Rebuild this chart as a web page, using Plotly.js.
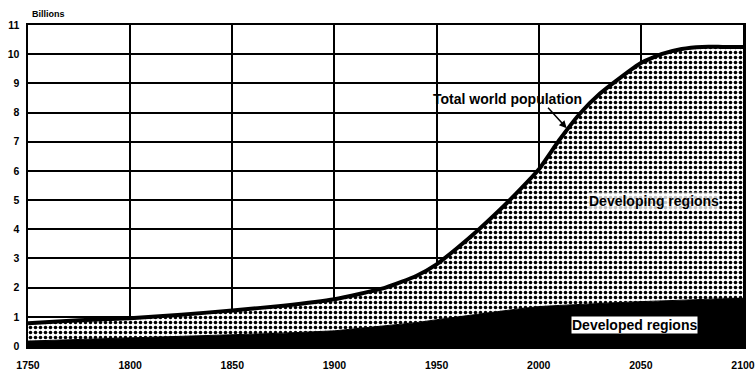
<!DOCTYPE html>
<html>
<head>
<meta charset="utf-8">
<script src="https://cdn.plot.ly/plotly-3.0.1.min.js"></script>
<style>html,body{margin:0;padding:0;background:#fff}#chart{width:755px;height:375px}</style>
</head>
<body>
<div id="chart"></div>
<script>
// Years (x values)
const years = [1750,1775,1800,1825,1850,1875,1900,1925,1940,1950,1960,1970,1980,1990,2000,2010,2020,2030,2040,2050,2060,2070,2080,2090,2100];
// Developed regions population (billions)
const developed = [0.17,0.22,0.27,0.32,0.38,0.44,0.52,0.68,0.80,0.90,1.00,1.09,1.18,1.27,1.35,1.39,1.43,1.46,1.49,1.52,1.55,1.58,1.60,1.62,1.63];
// Total world population (billions)
const total = [0.78,0.88,0.95,1.07,1.22,1.38,1.60,2.00,2.40,2.80,3.35,3.95,4.60,5.30,6.05,7.05,7.95,8.65,9.20,9.70,10.00,10.18,10.25,10.25,10.25];
const xTicks = [1750,1800,1850,1900,1950,2000,2050,2100];
const yTicks = [0,1,2,3,4,5,6,7,8,9,10,11];

const tickFont = {family:'Liberation Sans, Arial, sans-serif', size:10.5, weight:'bold', color:'#000'};
const labFont = {family:'Liberation Sans, Arial, sans-serif', size:14, weight:'bold', color:'#000'};

const traces = [
  {x:years, y:developed, type:'scatter', mode:'lines', fill:'tozeroy',
   fillcolor:'#000', line:{color:'#000', width:1}, hoverinfo:'skip', showlegend:false},
  {x:years, y:total, type:'scatter', mode:'lines', fill:'tonexty',
   fillcolor:'#fff',
   fillpattern:{shape:'.', size:5, solidity:0.4, fgcolor:'#000', bgcolor:'#fff', fillmode:'replace'},
   line:{color:'#000', width:4, shape:'spline', smoothing:0.5}, hoverinfo:'skip', showlegend:false}
];

const layout = {
  width:755, height:375,
  margin:{l:28, r:12, t:25, b:29},
  paper_bgcolor:'#fff', plot_bgcolor:'#fff',
  showlegend:false,
  xaxis:{range:[1750,2100], tickvals:xTicks, ticktext:xTicks.map(String),
    showgrid:true, gridcolor:'#000', gridwidth:2, zeroline:false,
    showline:true, linecolor:'#000', linewidth:2.5, mirror:true,
    ticks:'', tickfont:tickFont, ticklabelstandoff:8},
  yaxis:{range:[0,11], tickvals:yTicks, ticktext:yTicks.map(String),
    showgrid:true, gridcolor:'#000', gridwidth:2, zeroline:false,
    showline:true, linecolor:'#000', linewidth:2.5, mirror:true,
    ticks:'', tickfont:tickFont, ticklabelstandoff:4},
  annotations:[
    {xref:'paper', yref:'paper', x:0.003, y:1.035, xanchor:'left', yanchor:'middle',
     text:'Billions', showarrow:false, font:{family:'Liberation Sans, Arial, sans-serif', size:9, weight:'bold', color:'#000'}},
    {xref:'x', yref:'y', x:1984.7, y:8.45, text:'Total world population', showarrow:false,
     font:labFont, xanchor:'center', yanchor:'middle'},
    {xref:'x', yref:'y', x:2013.7, y:7.46, ax:-20, ay:-22, text:'', showarrow:true,
     arrowhead:2, arrowsize:1, arrowwidth:1.5, arrowcolor:'#000'},
    {xref:'x', yref:'y', x:2056.4, y:4.98, text:'Developing regions', showarrow:false,
     font:labFont, bgcolor:'rgba(255,255,255,0.75)', borderpad:0, xanchor:'center', yanchor:'middle'},
    {xref:'x', yref:'y', x:2047.1, y:0.72, text:'Developed regions', showarrow:false,
     font:labFont, bgcolor:'#fff', borderpad:0, xanchor:'center', yanchor:'middle'}
  ]
};

Plotly.newPlot('chart', traces, layout, {staticPlot:true, displayModeBar:false});
</script>
</body>
</html>
